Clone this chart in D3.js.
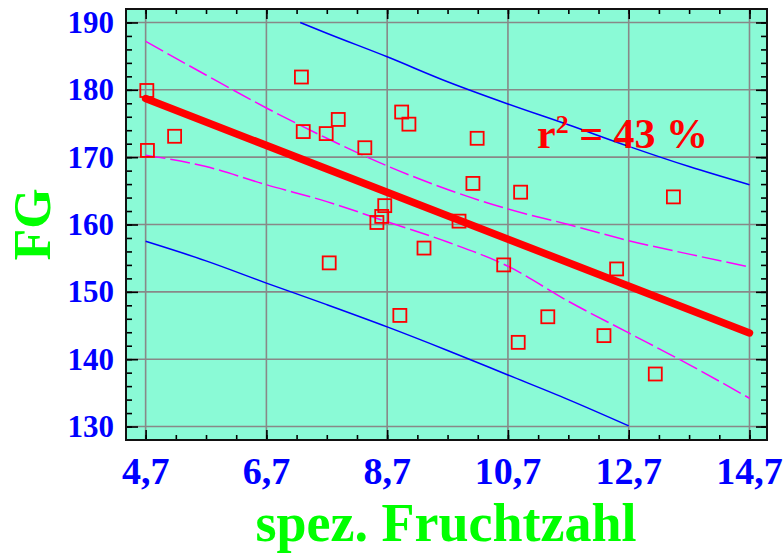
<!DOCTYPE html>
<html>
<head>
<meta charset="utf-8">
<script src="https://cdn.jsdelivr.net/npm/d3@7"></script>
<style>
  html, body { margin: 0; padding: 0; background: #ffffff; }
  svg { display: block; }
  text { font-family: "Liberation Serif", "Times New Roman", serif; font-weight: bold; }
</style>
</head>
<body>
<svg id="chart" width="783" height="553"></svg>
<script>
// ---- data ----
const pointX = [4.72, 5.18, 4.73, 7.28, 7.31, 7.69, 7.89, 8.33, 8.94, 9.06, 8.66, 8.61, 8.53,
                7.74, 9.31, 8.91, 10.19, 10.12, 10.91, 13.44, 9.89, 10.63, 12.5, 11.36, 10.87, 12.29, 13.14];
const pointY = [179.9, 173.1, 171.0, 181.9, 173.8, 173.5, 175.6, 171.4, 176.7, 174.9, 162.8, 161.2, 160.3,
                154.3, 156.5, 146.5, 172.8, 166.1, 164.8, 164.1, 160.5, 154.0, 153.4, 146.3, 142.5, 143.5, 137.8];

const fitX = [4.7, 14.7];
const fitY = [178.7, 143.9];

const bandX = [4.7, 5.7, 6.7, 7.7, 8.7, 9.7, 10.7, 11.7, 12.7, 13.7, 14.7];
const confUpper = [187.2, 182.2, 177.3, 172.8, 168.7, 165.2, 162.3, 160.0, 157.6, 155.6, 153.7];
const confLower = [170.3, 168.6, 165.9, 163.4, 160.4, 157.4, 153.8, 148.6, 143.9, 139.2, 134.2];

const predUpperX = [7.26, 7.7, 8.7, 9.7, 10.7, 11.7, 12.7, 13.7, 14.7];
const predUpperY = [190.0, 188.4, 184.9, 181.2, 177.9, 174.8, 171.6, 168.6, 165.9];
const predLowerX = [4.7, 5.7, 6.7, 7.7, 8.7, 9.7, 10.7, 11.7, 12.7];
const predLowerY = [157.5, 154.6, 151.3, 148.1, 144.8, 141.3, 137.65, 134.0, 130.1];

const xTicks = [4.7, 6.7, 8.7, 10.7, 12.7, 14.7];
const xTickLabels = ["4,7", "6,7", "8,7", "10,7", "12,7", "14,7"];
const yTicks = [130, 140, 150, 160, 170, 180, 190];
const yTickLabels = ["130", "140", "150", "160", "170", "180", "190"];
const xTitle = "spez. Fruchtzahl";
const yTitle = "FG";
const r2Value = "43";

// ---- layout ----
const svg = d3.select("#chart");
const L = 126, R = 767, T = 9, B = 440;
const x = d3.scaleLinear().domain([4.375, 14.99]).range([L, R]);
const y = d3.scaleLinear().domain([128, 192]).range([B, T]);

// background
svg.append("rect").attr("x", L).attr("y", T).attr("width", R - L).attr("height", B - T)
  .attr("fill", "#8afad6");

// grid
const grid = svg.append("g").attr("stroke", "#888888").attr("stroke-width", 1.6);
xTicks.forEach(v => grid.append("line").attr("x1", x(v)).attr("x2", x(v)).attr("y1", T).attr("y2", B));
yTicks.forEach(v => grid.append("line").attr("y1", y(v)).attr("y2", y(v)).attr("x1", L).attr("x2", R));

// minor/major ticks via d3 axes (inward)
const xMinor = d3.range(0, 21).map(i => 4.7 + i * 0.5).filter(v => v < 14.99);
const yMinor = d3.range(130, 191, 2);
function styleAxis(g) {
  g.select(".domain").remove();
  g.selectAll("line").attr("stroke", "#000").attr("stroke-width", 1.6);
  g.selectAll("text").remove();
}
svg.append("g").attr("transform", `translate(0,${B})`)
  .call(d3.axisTop(x).tickValues(xMinor).tickSize(5)).call(styleAxis);
svg.append("g").attr("transform", `translate(0,${B})`)
  .call(d3.axisTop(x).tickValues(xTicks).tickSize(10)).call(styleAxis);
svg.append("g").attr("transform", `translate(0,${T})`)
  .call(d3.axisBottom(x).tickValues(xMinor).tickSize(5)).call(styleAxis);
svg.append("g").attr("transform", `translate(0,${T})`)
  .call(d3.axisBottom(x).tickValues(xTicks).tickSize(10)).call(styleAxis);
svg.append("g").attr("transform", `translate(${L},0)`)
  .call(d3.axisRight(y).tickValues(yMinor).tickSize(6)).call(styleAxis);
svg.append("g").attr("transform", `translate(${L},0)`)
  .call(d3.axisRight(y).tickValues(yTicks).tickSize(12)).call(styleAxis);
svg.append("g").attr("transform", `translate(${R},0)`)
  .call(d3.axisLeft(y).tickValues(yMinor).tickSize(6)).call(styleAxis);
svg.append("g").attr("transform", `translate(${R},0)`)
  .call(d3.axisLeft(y).tickValues(yTicks).tickSize(11)).call(styleAxis);

// clip for curves
svg.append("clipPath").attr("id", "clip").append("rect")
  .attr("x", L).attr("y", T).attr("width", R - L).attr("height", B - T);
const plot = svg.append("g").attr("clip-path", "url(#clip)");

const line = d3.line().x(d => x(d[0])).y(d => y(d[1])).curve(d3.curveMonotoneX);

// prediction bands
plot.append("path").datum(d3.zip(predUpperX, predUpperY)).attr("d", line)
  .attr("fill", "none").attr("stroke", "#0000ff").attr("stroke-width", 1.5);
plot.append("path").datum(d3.zip(predLowerX, predLowerY)).attr("d", line)
  .attr("fill", "none").attr("stroke", "#0000ff").attr("stroke-width", 1.5);

// confidence bands
plot.append("path").datum(d3.zip(bandX, confUpper)).attr("d", line)
  .attr("fill", "none").attr("stroke", "#ff00ff").attr("stroke-width", 1.5)
  .attr("stroke-dasharray", "20,5");
plot.append("path").datum(d3.zip(bandX, confLower)).attr("d", line)
  .attr("fill", "none").attr("stroke", "#ff00ff").attr("stroke-width", 1.5)
  .attr("stroke-dasharray", "20,5");

// regression line
plot.append("path").datum(d3.zip(fitX, fitY)).attr("d", d3.line().x(d => x(d[0])).y(d => y(d[1])))
  .attr("fill", "none").attr("stroke", "#ff0000").attr("stroke-width", 7.5)
  .attr("stroke-linecap", "round");

// points
const s = 13;
plot.selectAll("rect.pt").data(d3.zip(pointX, pointY)).enter().append("rect")
  .attr("class", "pt")
  .attr("x", d => x(d[0]) - s / 2).attr("y", d => y(d[1]) - s / 2)
  .attr("width", s).attr("height", s)
  .attr("fill", "none").attr("stroke", "#ff0000").attr("stroke-width", 1.8);

// frame
svg.append("rect").attr("x", L).attr("y", T).attr("width", R - L).attr("height", B - T)
  .attr("fill", "none").attr("stroke", "#111").attr("stroke-width", 2);

// tick labels
svg.append("g").selectAll("text").data(xTicks).enter().append("text")
  .attr("x", d => x(d)).attr("y", 484).attr("text-anchor", "middle")
  .attr("fill", "#0000ff").attr("font-size", 38)
  .text((d, i) => xTickLabels[i]);
svg.append("g").selectAll("text").data(yTicks).enter().append("text")
  .attr("x", 114).attr("y", d => y(d) + 10.5).attr("text-anchor", "end")
  .attr("fill", "#0000ff").attr("font-size", 31)
  .text((d, i) => yTickLabels[i]);

// axis titles
svg.append("text").attr("x", 446).attr("y", 541).attr("text-anchor", "middle")
  .attr("fill", "#00ff00").attr("font-size", 54).text(xTitle);
svg.append("text").attr("transform", `translate(50,${(T + B) / 2}) rotate(-90)`)
  .attr("text-anchor", "middle").attr("fill", "#00ff00").attr("font-size", 52).text(yTitle);

// r² annotation
const r2 = svg.append("text").attr("x", 537).attr("y", 148).attr("fill", "#ff0000").attr("font-size", 42);
r2.append("tspan").text("r");
r2.append("tspan").attr("font-size", 26).attr("dy", -15).text("2");
r2.append("tspan").attr("dy", 15).text(" = " + r2Value + " %");
</script>
</body>
</html>
